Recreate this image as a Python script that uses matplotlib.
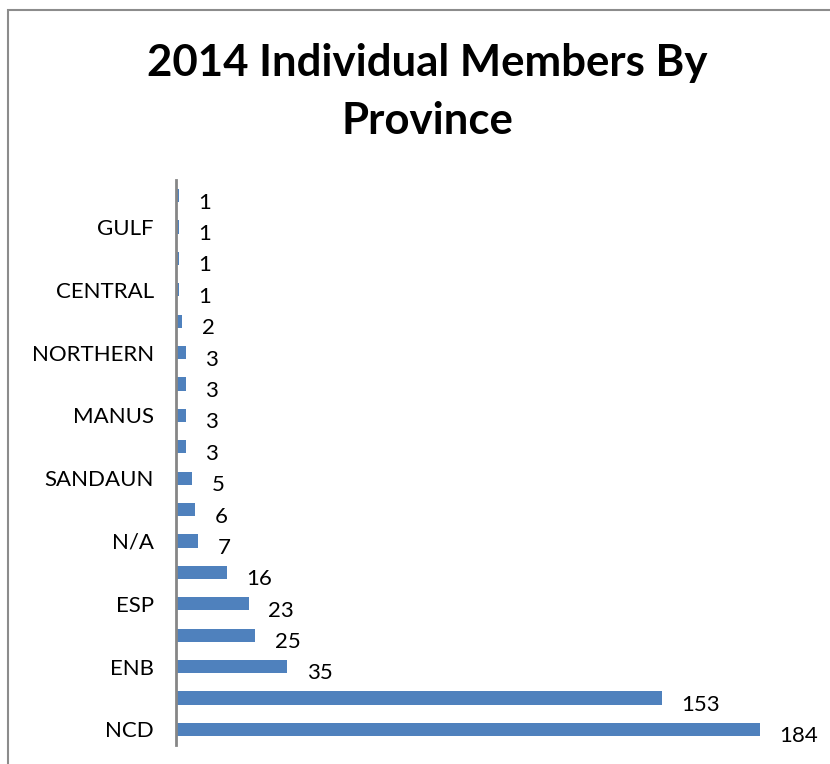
import matplotlib.pyplot as plt
from matplotlib.patches import Rectangle

# data (bottom to top, as drawn); only every other name is shown on the axis
provinces = ["NCD", "", "ENB", "", "ESP", "", "N/A", "", "SANDAUN", "",
             "MANUS", "", "NORTHERN", "", "CENTRAL", "", "GULF", ""]
members = [184, 153, 35, 25, 23, 16, 7, 6, 5, 3, 3, 3, 3, 2, 1, 1, 1, 1]

plt.rcParams["font.family"] = ["Lato", "DejaVu Sans"]

fig = plt.figure(figsize=(8.3, 7.64), dpi=100)

# chart area border (runs past right and bottom edges like the screenshot)
fig.patches.append(Rectangle((8 / 830, -0.1), 1.2, 1 - 10 / 764 + 0.1,
                             transform=fig.transFigure, fill=False,
                             edgecolor="#8c8c8c", linewidth=1.5))

ax = fig.add_axes([176 / 830, 19 / 764, 635 / 830, 565 / 764])
pos = list(range(len(members)))
bars = ax.barh(pos, members, height=0.42, color="#4F81BD")

for b, v in zip(bars, members):
    ax.annotate(str(v), (b.get_width(), b.get_y() + b.get_height() / 2),
                xytext=(14, -5), textcoords="offset points",
                ha="left", va="center", fontsize=16)

ax.set_xlim(0, 200)
ax.set_ylim(-0.5, len(members) - 0.5)
ax.set_yticks(pos)
ax.set_yticklabels(provinces, fontsize=16)
ax.tick_params(axis="y", length=0, pad=16)
ax.set_xticks([])
for s in ["top", "right", "bottom"]:
    ax.spines[s].set_visible(False)
ax.spines["left"].set_color("#868686")
ax.spines["left"].set_linewidth(2)

fig.text(427 / 830, 1 - 76 / 764, "2014 Individual Members By",
         ha="center", va="baseline", fontsize=31.5, fontweight="bold")
fig.text(427 / 830, 1 - 134 / 764, "Province",
         ha="center", va="baseline", fontsize=31.5, fontweight="bold")

fig.savefig("out.png", dpi=100)
